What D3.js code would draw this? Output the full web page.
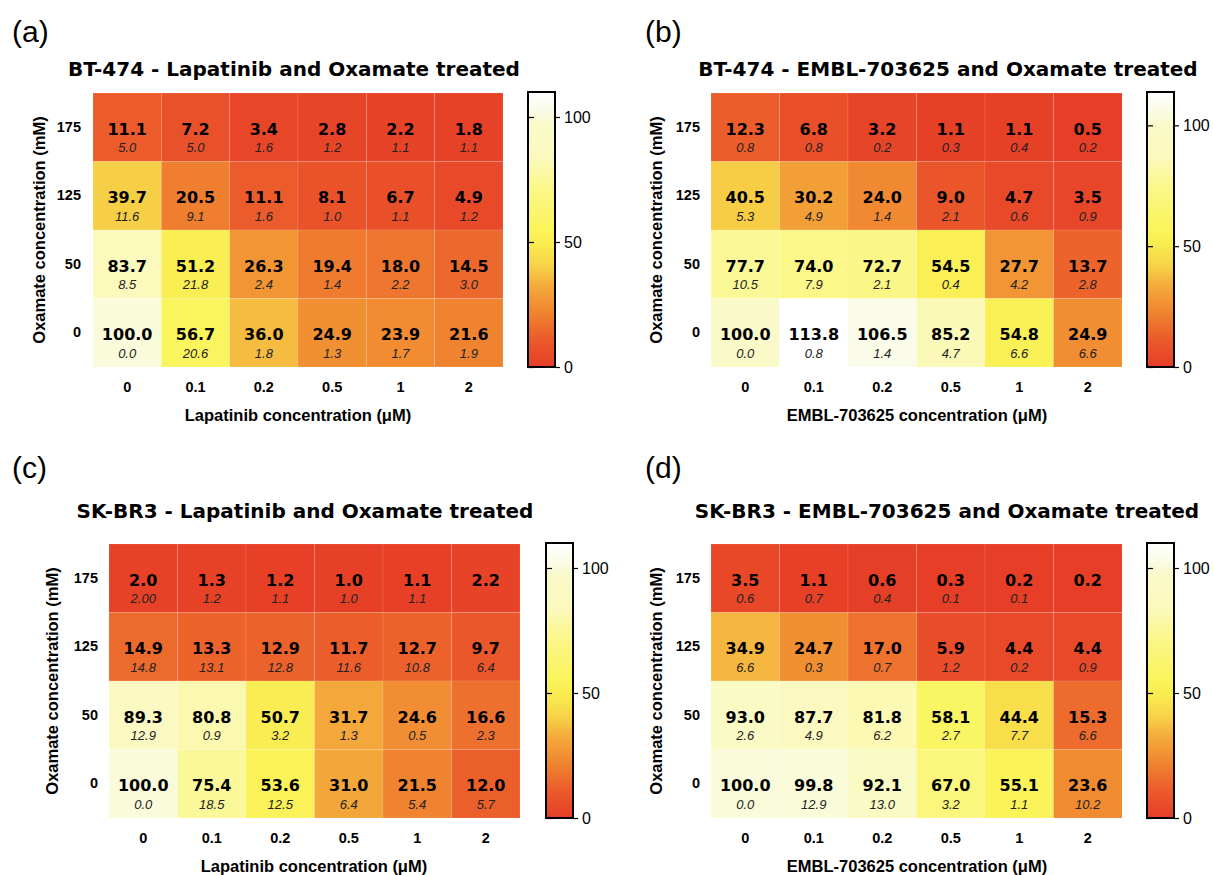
<!DOCTYPE html>
<html>
<head>
<meta charset="utf-8">
<script src="https://cdn.jsdelivr.net/npm/d3@7"></script>
<style>
  body { margin: 0; background: #fff; }
  text { fill: #000; }
</style>
</head>
<body>
<svg id="chart" width="1213" height="875"></svg>
<script>

// Axis categories
const drugDoses = ['0', '0.1', '0.2', '0.5', '1', '2']
const oxamateDoses = ['175', '125', '50', '0']

// (a) BT-474 Lapatinib - rows from 175 mM down to 0 mM
const meanA = [
    [11.1, 7.2, 3.4, 2.8, 2.2, 1.8],
    [39.7, 20.5, 11.1, 8.1, 6.7, 4.9],
    [83.7, 51.2, 26.3, 19.4, 18.0, 14.5],
    [100.0, 56.7, 36.0, 24.9, 23.9, 21.6]
]
const sdA = [
    ['5.0', '5.0', '1.6', '1.2', '1.1', '1.1'],
    ['11.6', '9.1', '1.6', '1.0', '1.1', '1.2'],
    ['8.5', '21.8', '2.4', '1.4', '2.2', '3.0'],
    ['0.0', '20.6', '1.8', '1.3', '1.7', '1.9']
]

// (b) BT-474 EMBL-703625
const meanB = [
    [12.3, 6.8, 3.2, 1.1, 1.1, 0.5],
    [40.5, 30.2, 24.0, 9.0, 4.7, 3.5],
    [77.7, 74.0, 72.7, 54.5, 27.7, 13.7],
    [100.0, 113.8, 106.5, 85.2, 54.8, 24.9]
]
const sdB = [
    ['0.8', '0.8', '0.2', '0.3', '0.4', '0.2'],
    ['5.3', '4.9', '1.4', '2.1', '0.6', '0.9'],
    ['10.5', '7.9', '2.1', '0.4', '4.2', '2.8'],
    ['0.0', '0.8', '1.4', '4.7', '6.6', '6.6']
]

// (c) SK-BR3 Lapatinib
const meanC = [
    [2.0, 1.3, 1.2, 1.0, 1.1, 2.2],
    [14.9, 13.3, 12.9, 11.7, 12.7, 9.7],
    [89.3, 80.8, 50.7, 31.7, 24.6, 16.6],
    [100.0, 75.4, 53.6, 31.0, 21.5, 12.0]
]
const sdC = [
    ['2.00', '1.2', '1.1', '1.0', '1.1', ''],
    ['14.8', '13.1', '12.8', '11.6', '10.8', '6.4'],
    ['12.9', '0.9', '3.2', '1.3', '0.5', '2.3'],
    ['0.0', '18.5', '12.5', '6.4', '5.4', '5.7']
]

// (d) SK-BR3 EMBL-703625
const meanD = [
    [3.5, 1.1, 0.6, 0.3, 0.2, 0.2],
    [34.9, 24.7, 17.0, 5.9, 4.4, 4.4],
    [93.0, 87.7, 81.8, 58.1, 44.4, 15.3],
    [100.0, 99.8, 92.1, 67.0, 55.1, 23.6]
]
const sdD = [
    ['0.6', '0.7', '0.4', '0.1', '0.1', ''],
    ['6.6', '0.3', '0.7', '1.2', '0.2', '0.9'],
    ['2.6', '4.9', '6.2', '2.7', '7.7', '6.6'],
    ['0.0', '12.9', '13.0', '3.2', '1.1', '10.2']
]

const colorbarTicks = [0, 50, 100]

// Colour ramp (fraction of colorbar max -> colour)
const rampStops = [0, 0.1, 0.2, 0.3, 0.36, 0.44, 0.5, 0.65, 0.76, 0.88, 0.93, 1]
const rampColors = ['#e63d27', '#eb5b2b', '#f08530', '#f4ad3c', '#f7cf47', '#f9ea4f',
    '#faf45a', '#fbf789', '#fbf9bc', '#fafac9', '#fafbe6', '#ffffff']

const panels = [
    {tag: '(a)', title: 'BT-474 - Lapatinib and Oxamate treated', xTitle: 'Lapatinib concentration (μM)',
        mean: meanA, sd: sdA, max: 110,
        x0: 93, x1: 503, y0: 93, y1: 367, barX: 528, tagY: 42, titleY: 76, titleX: 294, tagX: 12, tickRight: 81, yTitleX: 39, xTitleX: 298},
    {tag: '(b)', title: 'BT-474 - EMBL-703625 and Oxamate treated', xTitle: 'EMBL-703625 concentration (μM)',
        mean: meanB, sd: sdB, max: 113.8,
        x0: 711, x1: 1122, y0: 93, y1: 367, barX: 1147, tagY: 42, titleY: 76, titleX: 948, tagX: 645, tickRight: 700, yTitleX: 656, xTitleX: 917},
    {tag: '(c)', title: 'SK-BR3 - Lapatinib and Oxamate treated', xTitle: 'Lapatinib concentration (μM)',
        mean: meanC, sd: sdC, max: 110,
        x0: 109, x1: 520, y0: 544, y1: 818, barX: 546, tagY: 478, titleY: 518, titleX: 305, tagX: 12, tickRight: 98, yTitleX: 52, xTitleX: 314},
    {tag: '(d)', title: 'SK-BR3 - EMBL-703625 and Oxamate treated', xTitle: 'EMBL-703625 concentration (μM)',
        mean: meanD, sd: sdD, max: 110,
        x0: 711, x1: 1122, y0: 544, y1: 818, barX: 1147, tagY: 478, titleY: 518, titleX: 947, tagX: 645, tickRight: 700, yTitleX: 656, xTitleX: 917}
]

const svg = d3.select('#chart')
svg.append('rect').attr('width', 1213).attr('height', 875).attr('fill', '#fff')

const defs = svg.append('defs')
const barWidth = 27

panels.forEach(function(p, pi){

    const g = svg.append('g').classed('panel', true)

    const colorScale = d3.scaleLinear()
        .domain(rampStops.map(s => s * p.max))
        .range(rampColors)
        .clamp(true)

    const x = d3.scaleBand().domain(drugDoses).range([p.x0, p.x1])
    const y = d3.scaleBand().domain(oxamateDoses).range([p.y0, p.y1])

    // Panel tag and title
    g.append('text')
        .attr('x', p.tagX).attr('y', p.tagY)
        .style('font', '30px "Liberation Sans", Arial, sans-serif')
        .text(p.tag)

    g.append('text')
        .attr('x', p.titleX).attr('y', p.titleY)
        .attr('text-anchor', 'middle')
        .style('font', 'bold 20px "DejaVu Sans", sans-serif')
        .text(p.title)

    // Cells
    const cells = []
    oxamateDoses.forEach(function(r, ri){
        drugDoses.forEach(function(c, ci){
            cells.push({row: r, col: c, v: p.mean[ri][ci], sd: p.sd[ri][ci]})
        })
    })

    const cell = g.selectAll('g.cell')
        .data(cells)
        .enter()
        .append('g')
        .classed('cell', true)
        .attr('transform', d => 'translate(' + x(d.col) + ',' + y(d.row) + ')')

    cell.append('rect')
        .attr('width', x.bandwidth())
        .attr('height', y.bandwidth())
        .attr('fill', d => colorScale(d.v))
        .attr('stroke', 'rgba(255,255,255,0.18)')
        .attr('stroke-width', 0.6)

    cell.append('text')
        .attr('x', x.bandwidth() / 2)
        .attr('y', 41.5)
        .attr('text-anchor', 'middle')
        .style('font', 'bold 16px "DejaVu Sans", sans-serif')
        .text(d => d.v.toFixed(1))

    cell.append('text')
        .attr('x', x.bandwidth() / 2)
        .attr('y', 59)
        .attr('text-anchor', 'middle')
        .style('font', 'italic 13px "Liberation Sans", Arial, sans-serif')
        .style('fill', '#222')
        .text(d => d.sd)

    // X axis
    const xAxis = g.append('g')
        .attr('transform', 'translate(0,' + p.y1 + ')')
        .call(d3.axisBottom(x).tickSize(0))
    xAxis.select('.domain').remove()
    xAxis.selectAll('text')
        .attr('y', 25).attr('dy', null)
        .style('font', 'bold 14.5px "Liberation Sans", Arial, sans-serif')
        .style('fill', '#000')

    g.append('text')
        .attr('x', p.xTitleX).attr('y', p.y1 + 54)
        .attr('text-anchor', 'middle')
        .style('font', 'bold 16.5px "Liberation Sans", Arial, sans-serif')
        .text(p.xTitle)

    // Y axis
    const yAxis = g.append('g')
        .attr('transform', 'translate(' + p.x0 + ',0)')
        .call(d3.axisLeft(y).tickSize(0))
    yAxis.select('.domain').remove()
    yAxis.selectAll('text')
        .attr('x', p.tickRight - p.x0)
        .style('font', 'bold 14.5px "Liberation Sans", Arial, sans-serif')
        .style('fill', '#000')

    g.append('text')
        .attr('transform', 'translate(' + p.yTitleX + ',' + (p.y0 + p.y1) / 2 + ') rotate(-90)')
        .attr('text-anchor', 'middle')
        .attr('dy', '0.35em')
        .style('font', 'bold 16.5px "Liberation Sans", Arial, sans-serif')
        .text('Oxamate concentration (mM)')

    // Colorbar
    const barScale = d3.scaleLinear().domain([0, p.max]).range([p.y1, p.y0 - 1])
    const gradId = 'grad' + pi
    const grad = defs.append('linearGradient')
        .attr('id', gradId)
        .attr('x1', 0).attr('y1', 1).attr('x2', 0).attr('y2', 0)
    grad.selectAll('stop')
        .data(rampStops)
        .enter()
        .append('stop')
        .attr('offset', d => d)
        .attr('stop-color', (_, i) => rampColors[i])

    g.append('rect')
        .attr('x', p.barX).attr('y', barScale(p.max))
        .attr('width', barWidth)
        .attr('height', barScale(0) - barScale(p.max))
        .attr('fill', 'url(#' + gradId + ')')
        .attr('stroke', '#000')
        .attr('stroke-width', 2)

    const barInner = g.append('g')
        .attr('transform', 'translate(' + p.barX + ',0)')
        .call(d3.axisLeft(barScale).tickValues(colorbarTicks).tickSize(-6).tickFormat(''))
    barInner.select('.domain').remove()
    barInner.selectAll('line').attr('stroke', '#000').attr('stroke-width', 1.2)

    const barAxis = g.append('g')
        .attr('transform', 'translate(' + (p.barX + barWidth) + ',0)')
        .call(d3.axisRight(barScale).tickValues(colorbarTicks).tickSize(5).tickPadding(4))
    barAxis.select('.domain').remove()
    barAxis.selectAll('line').attr('stroke', '#000').attr('stroke-width', 1.2)
    barAxis.selectAll('text')
        .style('font', '16px "Liberation Sans", Arial, sans-serif')
        .style('fill', '#000')
})

</script>
</body>
</html>
